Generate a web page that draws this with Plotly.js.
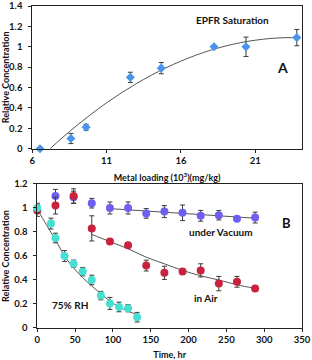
<!DOCTYPE html>
<html>
<head>
<meta charset="utf-8">
<script src="https://cdn.plot.ly/plotly-3.0.1.min.js"></script>
<style>html,body{margin:0;padding:0;background:#fff;}#chart{width:312px;height:360px;}</style>
</head>
<body>
<div id="chart"></div>
<script>
// Panel A: EPFR vs metal loading
const loadingA = [6.52, 8.6, 9.62, 12.6, 14.68, 18.23, 20.38, 23.8];
const concA = [0.0, 0.10, 0.21, 0.70, 0.79, 1.00, 1.00, 1.09];
const errA = [0.0, 0.05, 0.03, 0.05, 0.055, 0.012, 0.095, 0.08];
const fitAx = [7.2, 8, 9, 10, 11, 12, 13, 14, 15, 16, 17, 18, 19, 20, 21, 22, 23, 24];
const fitAy = [0.0, 0.105, 0.228, 0.343, 0.45, 0.548, 0.638, 0.72, 0.794, 0.859, 0.917, 0.966, 1.007, 1.04, 1.064, 1.081, 1.089, 1.089];
const ticksAy = [0, 0.2, 0.4, 0.6, 0.8, 1, 1.2, 1.4];
const ticksAx = [6, 11, 16, 21];

// Panel B: decay over time
const timeRH = [0, 18, 24, 36, 48, 60, 72, 84, 96, 108, 120, 132];
const concRH = [1.0, 0.87, 0.75, 0.60, 0.536, 0.47, 0.40, 0.27, 0.205, 0.175, 0.165, 0.09];
const errRH = [0.04, 0.045, 0.04, 0.045, 0.03, 0.035, 0.04, 0.035, 0.05, 0.04, 0.03, 0.04];
const fitRHx = [0, 12, 24, 36, 48, 60, 72, 84, 96, 108, 120, 132];
const fitRHy = [0.99, 0.86, 0.735, 0.60, 0.50, 0.42, 0.35, 0.285, 0.225, 0.175, 0.14, 0.11];

const timeAir = [0, 24, 48, 72, 96, 120, 144, 168, 192, 216, 240, 264, 288];
const concAir = [0.98, 1.02, 1.10, 0.83, 0.72, 0.69, 0.52, 0.46, 0.47, 0.48, 0.37, 0.385, 0.33];
const errAir = [0.05, 0.07, 0.06, 0.105, 0.02, 0.02, 0.045, 0.055, 0.02, 0.055, 0.06, 0.045, 0.02];
const fitAirx = [72, 96, 120, 144, 168, 192, 216, 240, 264, 288];
const fitAiry = [0.78, 0.72, 0.66, 0.59, 0.535, 0.48, 0.435, 0.40, 0.36, 0.33];

const timeVac = [24, 48, 72, 96, 120, 144, 168, 192, 216, 240, 264, 288];
const concVac = [1.10, 1.09, 1.04, 1.00, 1.00, 0.955, 0.97, 0.96, 0.935, 0.94, 0.91, 0.92];
const errVac = [0.055, 0.05, 0.04, 0.05, 0.05, 0.04, 0.05, 0.065, 0.045, 0.04, 0.01, 0.045];
const fitVacx = [96, 288];
const fitVacy = [0.995, 0.915];
const ticksBy = [0, 0.2, 0.4, 0.6, 0.8, 1, 1.2];
const ticksBx = [0, 50, 100, 150, 200, 250, 300, 350];

const FONT = 'Lato, "Open Sans", sans-serif';
const errStyle = {type: 'data', visible: true, color: '#3a3a3a', thickness: 1, width: 2.5};
const fitLine = {color: '#555555', width: 1};

function markers(x, y, e, color, symbol, size, xa, ya) {
  return {x: x, y: y, type: 'scatter', mode: 'markers', xaxis: xa, yaxis: ya,
    cliponaxis: false,
    marker: {color: color, size: size, symbol: symbol},
    error_y: Object.assign({array: e}, errStyle), showlegend: false, hoverinfo: 'x+y'};
}
function fit(x, y, xa, ya) {
  return {x: x, y: y, type: 'scatter', mode: 'lines', xaxis: xa, yaxis: ya,
    line: Object.assign({shape: 'spline'}, fitLine), showlegend: false, hoverinfo: 'skip'};
}

const data = [
  fit(fitAx, fitAy, 'x', 'y'),
  markers(loadingA, concA, errA, '#4a94ea', 'diamond', 7, 'x', 'y'),
  fit(fitRHx, fitRHy, 'x2', 'y2'),
  fit(fitAirx, fitAiry, 'x2', 'y2'),
  fit(fitVacx, fitVacy, 'x2', 'y2'),
  markers(timeVac, concVac, errVac, '#6e5ff0', 'circle', 8, 'x2', 'y2'),
  markers(timeAir, concAir, errAir, '#c9223f', 'circle', 8, 'x2', 'y2'),
  markers(timeRH, concRH, errRH, '#45e0d2', 'circle', 8, 'x2', 'y2')
];

const tickFont = {family: FONT, size: 9.5, color: '#111', weight: 'bold'};
const titleFont = {family: FONT, size: 9, color: '#111', weight: 'bold'};
const axBase = {showgrid: false, zeroline: false, showline: true, mirror: true,
  linecolor: '#222', linewidth: 1, ticks: 'outside', ticklen: 3, tickcolor: '#222',
  tickfont: tickFont, fixedrange: true, ticklabeloverflow: 'allow', automargin: false,
  tickmode: 'array'};

function label(text, px, py, size) {
  return {text: text, xref: 'paper', yref: 'paper', x: px / 312, y: 1 - py / 360,
    xanchor: 'center', yanchor: 'middle', showarrow: false,
    font: {family: FONT, size: size, color: '#111', weight: 'bold'}};
}

const layout = {
  width: 312, height: 360,
  margin: {l: 0, r: 0, t: 0, b: 0},
  paper_bgcolor: '#fff', plot_bgcolor: '#fff',
  font: {family: FONT},
  xaxis: Object.assign({}, axBase, {domain: [0.1035, 0.968], range: [6, 24.15],
    tickvals: ticksAx, ticktext: ticksAx.map(String), anchor: 'y',
    title: {text: 'Metal loading (10<sup>3</sup>)(mg/kg)', font: titleFont, standoff: 9}}),
  yaxis: Object.assign({}, axBase, {domain: [0.587, 1 - 6/360], range: [0, 1.4],
    tickvals: ticksAy, ticktext: ticksAy.map(String), anchor: 'x', ticklabelstandoff: 4,
    title: {text: 'Relative Concentration', font: titleFont, standoff: 4}}),
  xaxis2: Object.assign({}, axBase, {domain: [0.1196, 0.968], range: [0, 350],
    tickvals: ticksBx, ticktext: ticksBx.map(String), anchor: 'y2',
    title: {text: 'Time, hr', font: titleFont, standoff: 7}}),
  yaxis2: Object.assign({}, axBase, {domain: [0.0889, 0.4889], range: [0, 1.2],
    tickvals: ticksBy, ticktext: ticksBy.map(String), anchor: 'x2', ticklabelstandoff: 4,
    title: {text: 'Relative Concentration', font: titleFont, standoff: 4}}),
  annotations: [
    label('EPFR Saturation', 232, 20, 10),
    label('A', 282, 67, 14),
    label('B', 286, 223, 13),
    label('under Vacuum', 221, 232, 10),
    label('in Air', 206, 298, 10),
    label('75% RH', 70, 305, 10)
  ]
};

Plotly.newPlot('chart', data, layout, {staticPlot: true, displayModeBar: false});
</script>
</body>
</html>
